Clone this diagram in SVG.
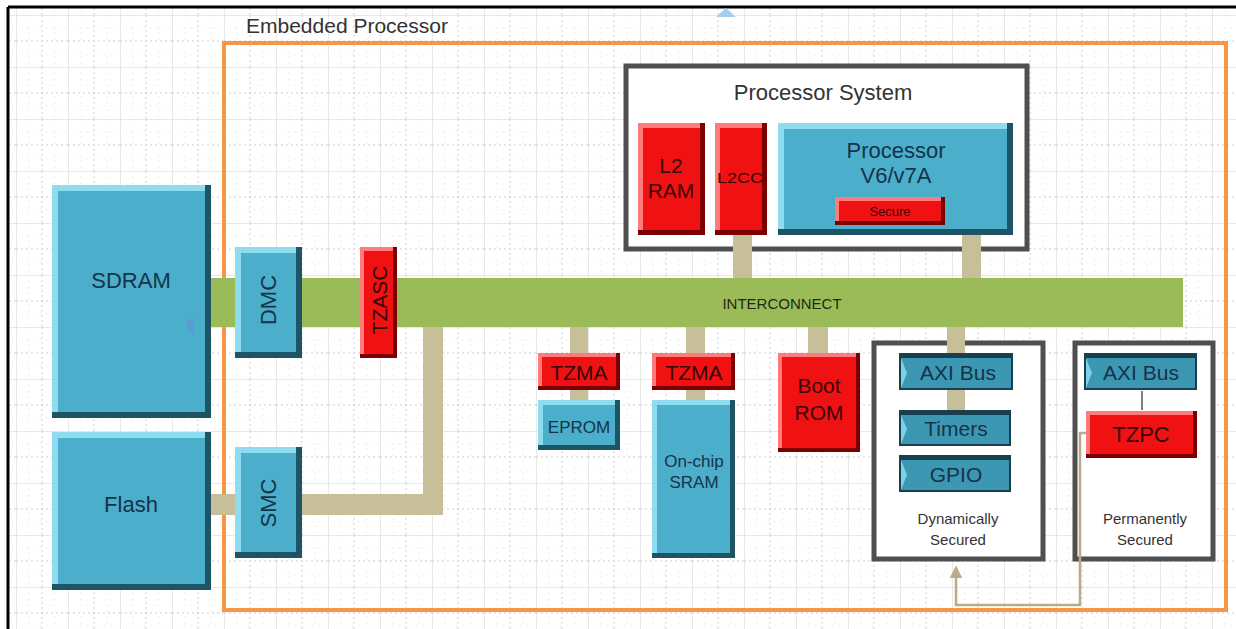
<svg xmlns="http://www.w3.org/2000/svg" width="1236" height="629" viewBox="0 0 1236 629">
<defs>
<pattern id="grid" x="16" y="15" width="52" height="52" patternUnits="userSpaceOnUse">
<path d="M0 0V52M0 0H52" stroke="#d4d4d4" stroke-width="1" fill="none"/>
<path d="M26 0V52M0 26H52" stroke="#cfcfcf" stroke-width="1" stroke-dasharray="2 3" fill="none"/>
<path d="M13 0V52M39 0V52M0 13H52M0 39H52" stroke="#e2e2e2" stroke-width="1" stroke-dasharray="1 5" fill="none"/>
</pattern>
<marker id="ah" viewBox="0 0 10 10" refX="8" refY="5" markerWidth="5" markerHeight="5" orient="auto">
<path d="M0 0L10 5L0 10z" fill="#b5ad88"/>
</marker>
</defs>
<style>
.bd{fill:#1d5466}.bl{fill:#8fdcf0}.bb{fill:#4baecb}
.rd{fill:#7d0000}.rl{fill:#ff7a7a}.rb{fill:#f01212}
.ad{fill:#173f4d}.ab{fill:#3c98b2}.al{fill:#7fd0e6}
.t{font-family:"Liberation Sans",Arial,sans-serif;text-anchor:middle}
.tb{fill:#16334a}.tr{fill:#3a0505}.tg{fill:#333333}
.box{fill:#ffffff;stroke:#4f4f4f;stroke-width:5}
.tan{fill:#c6bf99}
</style>
<rect x="0" y="0" width="1236" height="629" fill="#ffffff"/>
<rect x="8" y="7" width="1228" height="622" fill="url(#grid)"/>
<path d="M8 7H1236M8 7V629" stroke="#000" stroke-width="3" fill="none"/>
<path d="M716 17L726 8L736 17Z" fill="#a9cdee"/>

<g id="embedded-processor">
<rect x="224" y="43" width="1002" height="567" fill="none" stroke="#f79646" stroke-width="4"/>
<text class="t tg" x="347" y="33" font-size="21">Embedded Processor</text>
</g>

<g id="interconnect">
<rect x="209" y="278" width="974" height="49" fill="#9bbb59"/>
<text class="t" x="782" y="309" font-size="15" fill="#1e2a10">INTERCONNECT</text>
</g>

<g id="processor-system">
<rect class="box" x="626" y="66" width="401" height="183"/>
<text class="t tg" x="823" y="100" font-size="22">Processor System</text>
</g>

<g id="l2ram">
<rect class="rd" x="638" y="123" width="67" height="112"/>
<rect class="rl" x="638" y="123" width="62" height="107"/>
<rect class="rb" x="643" y="128" width="57" height="102"/>
<text class="t tr" x="671" y="173" font-size="21">L2</text>
<text class="t tr" x="671" y="198" font-size="21">RAM</text>
</g>

<g id="l2cc">
<rect class="rd" x="715" y="123" width="52" height="112"/>
<rect class="rl" x="715" y="123" width="47" height="107"/>
<rect class="rb" x="720" y="128" width="42" height="102"/>
<text class="t tr" x="740" y="183" font-size="14" textLength="46" lengthAdjust="spacingAndGlyphs">L2CC</text>
</g>

<g id="processor">
<rect class="bd" x="778" y="123" width="235" height="112"/>
<rect class="bl" x="778" y="123" width="229" height="106"/>
<rect class="bb" x="784" y="129" width="223" height="100"/>
<text class="t tb" x="896" y="158" font-size="22">Processor</text>
<text class="t tb" x="896" y="183" font-size="22">V6/v7A</text>
</g>

<g id="secure">
<rect class="rd" x="835" y="197" width="110" height="28"/>
<rect class="rl" x="835" y="197" width="106" height="24"/>
<rect class="rb" x="839" y="201" width="102" height="20"/>
<text class="t tr" x="890" y="216" font-size="13">Secure</text>
</g>

<g id="sdram">
<rect class="bd" x="52" y="185" width="159" height="233"/>
<rect class="bl" x="52" y="185" width="153" height="227"/>
<rect class="bb" x="58" y="191" width="147" height="221"/>
<text class="t tb" x="131" y="288" font-size="22">SDRAM</text>
<path d="M193 316L185 325L193 335Z" fill="#5b9bd5"/>
</g>

<g id="dmc">
<rect class="bd" x="235" y="247" width="67" height="111"/>
<rect class="bl" x="235" y="247" width="61" height="105"/>
<rect class="bb" x="241" y="253" width="55" height="99"/>
<text class="t tb" font-size="22" transform="translate(268,300) rotate(-90)" x="0" y="8">DMC</text>
</g>

<g id="tzasc">
<rect class="rd" x="360" y="247" width="37" height="111"/>
<rect class="rl" x="360" y="247" width="33" height="107"/>
<rect class="rb" x="364" y="251" width="29" height="103"/>
<text class="t tr" font-size="21" transform="translate(379,300) rotate(-90)" x="0" y="8">TZASC</text>
</g>

<g id="flash">
<rect class="bd" x="52" y="432" width="159" height="158"/>
<rect class="bl" x="52" y="432" width="153" height="152"/>
<rect class="bb" x="58" y="438" width="147" height="146"/>
<text class="t tb" x="131" y="512" font-size="22">Flash</text>
</g>

<g id="smc">
<rect class="bd" x="235" y="447" width="67" height="111"/>
<rect class="bl" x="235" y="447" width="61" height="105"/>
<rect class="bb" x="241" y="453" width="55" height="99"/>
<text class="t tb" font-size="22" transform="translate(268,503) rotate(-90)" x="0" y="8">SMC</text>
</g>

<g id="tzma1">
<rect class="rd" x="538" y="353" width="82" height="37"/>
<rect class="rl" x="538" y="353" width="78" height="33"/>
<rect class="rb" x="542" y="357" width="74" height="29"/>
<text class="t tr" x="579" y="380" font-size="21">TZMA</text>
</g>

<g id="eprom">
<rect class="bd" x="538" y="400" width="82" height="50"/>
<rect class="bl" x="538" y="400" width="77" height="45"/>
<rect class="bb" x="543" y="405" width="72" height="40"/>
<text class="t tb" x="579" y="433" font-size="17">EPROM</text>
</g>

<g id="tzma2">
<rect class="rd" x="652" y="353" width="83" height="37"/>
<rect class="rl" x="652" y="353" width="79" height="33"/>
<rect class="rb" x="656" y="357" width="75" height="29"/>
<text class="t tr" x="694" y="380" font-size="21">TZMA</text>
</g>

<g id="onchip-sram">
<rect class="bd" x="652" y="400" width="83" height="158"/>
<rect class="bl" x="652" y="400" width="78" height="153"/>
<rect class="bb" x="657" y="405" width="73" height="148"/>
<text class="t tb" x="694" y="467" font-size="17">On-chip</text>
<text class="t tb" x="694" y="488" font-size="17">SRAM</text>
</g>

<g id="boot-rom">
<rect class="rd" x="778" y="353" width="82" height="99"/>
<rect class="rl" x="778" y="353" width="78" height="95"/>
<rect class="rb" x="782" y="357" width="74" height="91"/>
<text class="t tr" x="819" y="393" font-size="21">Boot</text>
<text class="t tr" x="819" y="420" font-size="21">ROM</text>
</g>

<g id="dynamically-secured">
<rect class="box" x="874" y="343" width="169" height="216"/>
<text class="t tg" x="958" y="524" font-size="15">Dynamically</text>
<text class="t tg" x="958" y="545" font-size="15">Secured</text>
</g>

<g id="axi-bus-1">
<rect class="ad" x="899" y="353" width="114" height="37"/>
<rect class="ab" x="901" y="358" width="110" height="30"/>
<path class="al" d="M901 358L907 373L901 388Z"/>
<text class="t tb" x="958" y="380" font-size="21">AXI Bus</text>
</g>

<g id="timers">
<rect class="ad" x="899" y="410" width="112" height="36"/>
<rect class="ab" x="901" y="415" width="108" height="29"/>
<path class="al" d="M901 415L907 429L901 444Z"/>
<text class="t tb" x="956" y="436" font-size="21">Timers</text>
</g>

<g id="gpio">
<rect class="ad" x="899" y="455" width="112" height="37"/>
<rect class="ab" x="901" y="460" width="108" height="30"/>
<path class="al" d="M901 460L907 475L901 490Z"/>
<text class="t tb" x="956" y="482" font-size="21">GPIO</text>
</g>

<g id="permanently-secured">
<rect class="box" x="1075" y="343" width="138" height="216"/>
<text class="t tg" x="1145" y="524" font-size="15">Permanently</text>
<text class="t tg" x="1145" y="545" font-size="15">Secured</text>
</g>

<g id="axi-bus-2">
<rect class="ad" x="1084" y="353" width="113" height="37"/>
<rect class="ab" x="1086" y="358" width="109" height="30"/>
<path class="al" d="M1086 358L1092 373L1086 388Z"/>
<text class="t tb" x="1141" y="380" font-size="21">AXI Bus</text>
</g>

<g id="tzpc">
<rect class="rd" x="1086" y="411" width="111" height="47"/>
<rect class="rl" x="1086" y="411" width="107" height="43"/>
<rect class="rb" x="1090" y="415" width="103" height="39"/>
<text class="t tr" x="1141" y="442" font-size="22">TZPC</text>
</g>

<g id="connectors">
<rect class="tan" x="733" y="235" width="19" height="43"/>
<rect class="tan" x="962" y="235" width="19" height="43"/>
<rect class="tan" x="423" y="327" width="20" height="188"/>
<rect class="tan" x="302" y="494" width="141" height="21"/>
<rect class="tan" x="211" y="494" width="24" height="21"/>
<rect class="tan" x="570" y="327" width="18" height="26"/>
<rect class="tan" x="570" y="390" width="18" height="10"/>
<rect class="tan" x="686" y="327" width="19" height="26"/>
<rect class="tan" x="686" y="390" width="19" height="10"/>
<rect class="tan" x="808" y="327" width="20" height="26"/>
<rect class="tan" x="947" y="327" width="18" height="26"/>
<rect class="tan" x="947" y="390" width="18" height="20"/>
<line x1="1142" y1="391" x2="1142" y2="410" stroke="#555" stroke-width="1.5"/>
<path d="M1086 433H1080V605H956V568" fill="none" stroke="#b5ad88" stroke-width="2.5" marker-end="url(#ah)"/>
</g>
</svg>
